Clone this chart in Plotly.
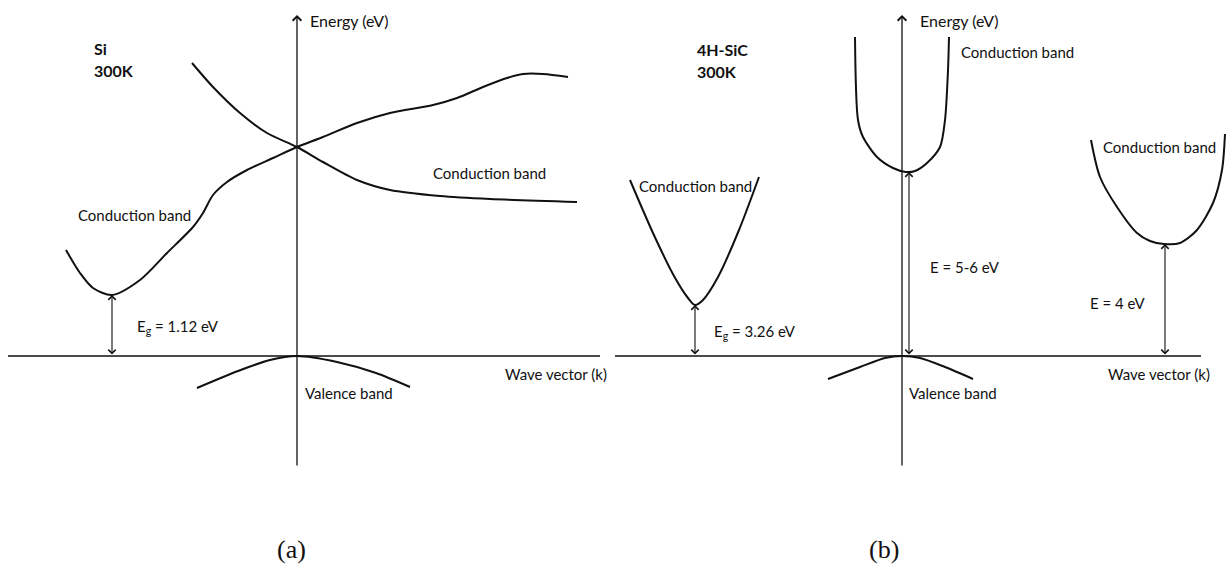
import plotly.graph_objects as go

# Band-structure sketches in arbitrary units: k = wave vector, E = energy,
# each panel has its origin at the valence-band maximum.

# ---- (a) Si, 300K ----
si_cb_fall_k = [-10.5, -8.4, -5.7, -3.0, 0.0, 2.6, 6.0, 9.3, 14.3, 19.3, 28.0]
si_cb_fall_e = [29.3, 26.9, 24.3, 22.3, 20.9, 19.4, 17.6, 16.6, 16.0, 15.7, 15.4]

si_cb_rise_k = [-23.1, -21.7, -20.4, -18.5, -15.7, -13.0, -10.4, -9.4, -8.4, -7.0,
                -5.0, -2.4, 0.0, 2.6, 6.0, 9.3, 13.6, 16.0, 18.6, 21.0, 22.6, 24.6, 27.1]
si_cb_rise_e = [10.6, 8.3, 6.8, 6.1, 7.6, 10.3, 12.9, 14.3, 16.1, 17.4,
                18.6, 19.8, 20.9, 21.9, 23.3, 24.3, 25.1, 25.8, 26.9, 27.8, 28.2, 28.2, 27.9]

si_vb_k = [-10.0, -5.9, -2.7, 0.0, 4.0, 7.9, 11.3]
si_vb_e = [-3.2, -1.5, -0.4, 0.0, -0.6, -1.7, -3.1]

si_gap_k = -18.5
si_gap_e = 6.1

# ---- (b) 4H-SiC, 300K ----
sic_cb_left_k = [-27.2, -24.9, -22.8, -21.4, -20.7, -19.9, -18.4, -16.3, -14.3]
sic_cb_left_e = [17.6, 12.3, 8.0, 5.8, 5.1, 5.6, 7.9, 12.6, 17.9]

sic_cb_mid_k = [-4.7, -4.4, -3.9, -2.5, -0.9, 0.4, 1.3, 2.5, 3.8, 4.3, 4.6, 4.7]
sic_cb_mid_e = [31.9, 23.6, 21.9, 19.9, 18.8, 18.4, 18.5, 19.3, 20.9, 23.6, 28.6, 31.9]

sic_cb_right_k = [18.9, 19.8, 21.5, 23.5, 24.8, 26.2, 27.8, 29.5, 31.1, 32.0, 32.3]
sic_cb_right_e = [21.6, 17.9, 14.9, 12.3, 11.5, 11.2, 11.3, 12.6, 15.3, 18.6, 22.2]

sic_vb_k = [-7.4, -4.2, -1.7, 0.0, 1.8, 4.3, 7.1]
sic_vb_e = [-2.3, -1.1, -0.2, 0.0, -0.2, -1.1, -2.3]

sic_gap_k = [-20.7, 0.7, 26.3]
sic_gap_e = [5.1, 18.4, 11.2]

# axis extents per panel
axis_k_a = [-28.9, 30.3]
axis_k_b = [-28.8, 29.9]
axis_e = [-11.1, 34.1]

INK = "#111111"
SANS = "Lato"
SERIF = "Liberation Serif"

fig = go.Figure()


def band(k, e, xa):
    fig.add_trace(go.Scatter(x=k, y=e, xaxis=xa, yaxis="y", mode="lines",
                             line=dict(color=INK, width=2, shape="spline", smoothing=0.8),
                             hoverinfo="skip", showlegend=False))


def k_axis(krange, xa):
    fig.add_trace(go.Scatter(x=krange, y=[0, 0], xaxis=xa, yaxis="y", mode="lines",
                             line=dict(color=INK, width=1.6),
                             hoverinfo="skip", showlegend=False))


band(si_cb_fall_k, si_cb_fall_e, "x")
band(si_cb_rise_k, si_cb_rise_e, "x")
band(si_vb_k, si_vb_e, "x")
k_axis(axis_k_a, "x")

band(sic_cb_left_k, sic_cb_left_e, "x2")
band(sic_cb_mid_k, sic_cb_mid_e, "x2")
band(sic_cb_right_k, sic_cb_right_e, "x2")
band(sic_vb_k, sic_vb_e, "x2")
k_axis(axis_k_b, "x2")

annotations = []


def energy_axis(xref):
    annotations.append(dict(x=0, y=axis_e[1], ax=0, ay=axis_e[0], xref=xref, yref="y",
                            axref=xref, ayref="y", text="", showarrow=True,
                            arrowhead=4, arrowsize=1.3, arrowwidth=1.3, arrowcolor=INK,
                            standoff=0, startstandoff=0))


def gap_arrow(k, e, xref):
    annotations.append(dict(x=k, y=e, ax=k, ay=0, xref=xref, yref="y",
                            axref=xref, ayref="y", text="", showarrow=True,
                            arrowhead=4, startarrowhead=4, arrowside="end+start",
                            arrowsize=1.3, startarrowsize=1.3, arrowwidth=1.1,
                            arrowcolor=INK, standoff=0, startstandoff=0))


def label(text, k, e, xref, size=15, bold=False, anchor="left", family=SANS):
    annotations.append(dict(x=k, y=e, xref=xref, yref="y", text=text, showarrow=False,
                            xanchor=anchor, yanchor="middle",
                            font=dict(family=family, size=size, color=INK,
                                      weight="bold" if bold else "normal")))


energy_axis("x")
energy_axis("x2")
gap_arrow(si_gap_k, si_gap_e, "x")
for gk, ge in zip(sic_gap_k, sic_gap_e):
    gap_arrow(gk, ge, "x2")

# panel (a) text
label("Energy (eV)", 1.1, 33.6, "x", size=16)
label("Si", -20.5, 30.8, "x", size=16, bold=True)
label("300K", -20.5, 28.6, "x", size=16, bold=True)
label("Conduction band", 13.4, 18.3, "x")
label("Conduction band", -22.1, 14.1, "x")
label("E<sub>g</sub> = 1.12 eV", -16.2, 2.9, "x")
label("Wave vector (k)", 20.6, -1.8, "x")
label("Valence band", 0.6, -3.7, "x")
label("(a)", -0.6, -19.3, "x", size=26, anchor="center", family=SERIF)

# panel (b) text
label("Energy (eV)", 1.6, 33.6, "x2", size=16)
label("4H-SiC", -20.7, 30.7, "x2", size=16, bold=True)
label("300K", -20.7, 28.5, "x2", size=16, bold=True)
label("Conduction band", 5.7, 30.4, "x2")
label("Conduction band", -26.5, 17.0, "x2")
label("Conduction band", 19.9, 20.9, "x2")
label("E<sub>g</sub> = 3.26 eV", -19.0, 2.4, "x2")
label("E = 5-6 eV", 2.6, 8.9, "x2")
label("E = 4 eV", 18.6, 5.3, "x2")
label("Wave vector (k)", 20.4, -1.8, "x2")
label("Valence band", 0.5, -3.7, "x2")
label("(b)", -1.8, -19.3, "x2", size=26, anchor="center", family=SERIF)

W, H = 1231, 566
split = 615 / W
hidden = dict(visible=False, showgrid=False, zeroline=False, fixedrange=True)

fig.update_layout(
    width=W, height=H,
    margin=dict(l=0, r=0, t=0, b=0),
    paper_bgcolor="white", plot_bgcolor="white",
    xaxis=dict(domain=[0, split], range=[-29.7, 31.8], **hidden),
    xaxis2=dict(domain=[split, 1], range=[-28.7, 32.9], anchor="y", **hidden),
    yaxis=dict(domain=[0, 1], range=[-21.0, 35.6], **hidden),
    annotations=annotations,
    showlegend=False,
)

fig.write_html("out.html")
